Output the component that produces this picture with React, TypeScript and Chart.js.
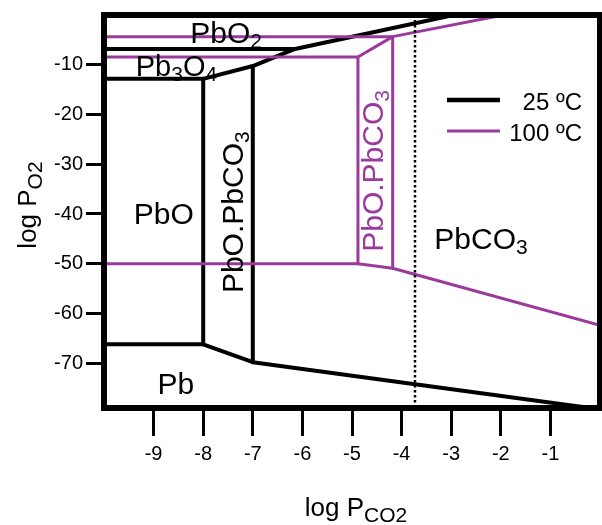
import React, { useEffect, useRef } from 'react';
import { Chart, registerables } from 'chart.js';

Chart.register(...registerables);

const FONT = "'Liberation Sans', Arial, Helvetica, sans-serif";
const BLACK = '#000000';
const PURPLE = '#9a3a9c';

// Axis ranges and ticks
const xRange = [-10, 0];
const yRange = [-79, 0];
const xTicks = [-9, -8, -7, -6, -5, -4, -3, -2, -1];
const yTicks = [-10, -20, -30, -40, -50, -60, -70];

// 25 ºC phase boundaries [log PCO2, log PO2]
const k25_PbO2_Pb3O4 = [[-10, -6.83], [-6.15, -6.83]];
const k25_Pb3O4_PbO = [[-10, -12.84], [-8, -12.84]];
const k25_upper = [[-8, -12.84], [-7, -10.26], [-6.15, -6.83], [-2.95, 0]];
const k25_PbO_mixed = [[-8, -12.84], [-8, -66.2]];
const k25_mixed_PbCO3 = [[-7, -10.26], [-7, -69.8]];
const k25_Pb = [[-10, -66.2], [-8, -66.2], [-7, -69.8], [-0.2, -79]];

// 100 ºC phase boundaries
const k100_top = [[-10, -4.35], [-4.18, -4.35], [-1.95, 0]];
const k100_mid = [[-10, -8.45], [-4.88, -8.45], [-4.18, -4.35]];
const k100_v1 = [[-4.88, -8.45], [-4.88, -50.0]];
const k100_v2 = [[-4.18, -4.35], [-4.18, -50.9]];
const k100_low = [[-10, -50.0], [-4.88, -50.0], [-4.18, -50.9], [0, -62.4]];

// Dotted reference line
const refLine = [[-3.73, 0], [-3.73, -79]];

// Legend
const legendLabels = ['25 ºC', '100 ºC'];
const legendColors = [BLACK, PURPLE];

type Part = [string, boolean];

const mk = (pts: number[][], color: string, width: number, dash: number[] = []) => ({
  data: pts.map(([x, y]) => ({ x, y })),
  showLine: true,
  borderColor: color,
  backgroundColor: color,
  borderWidth: width,
  borderDash: dash,
  pointRadius: 0,
  pointHoverRadius: 0,
  fill: false,
  tension: 0,
  borderCapStyle: 'butt',
  borderJoinStyle: 'round',
});

function partsWidth(ctx: CanvasRenderingContext2D, parts: Part[], size: number, sub: number) {
  let w = 0;
  for (const [t, s] of parts) {
    ctx.font = `${s ? sub : size}px ${FONT}`;
    w += ctx.measureText(t).width;
  }
  return w;
}

function drawParts(
  ctx: CanvasRenderingContext2D,
  parts: Part[],
  x: number,
  y: number,
  size: number,
  sub: number,
  drop: number,
  color: string
) {
  ctx.fillStyle = color;
  ctx.textAlign = 'left';
  ctx.textBaseline = 'alphabetic';
  let cx = x;
  for (const [t, s] of parts) {
    ctx.font = `${s ? sub : size}px ${FONT}`;
    ctx.fillText(t, cx, y + (s ? drop : 0));
    cx += ctx.measureText(t).width;
  }
}

const regionLabels: { parts: Part[]; x: number; y: number; color: string; rot: boolean; size: number }[] = [
  { parts: [['PbO', false], ['2', true]], x: -8.26, y: -5.7, color: BLACK, rot: false, size: 30 },
  { parts: [['Pb', false], ['3', true], ['O', false], ['4', true]], x: -9.36, y: -12.24, color: BLACK, rot: false, size: 29 },
  { parts: [['PbO', false]], x: -9.4, y: -42.0, color: BLACK, rot: false, size: 30 },
  { parts: [['Pb', false]], x: -8.92, y: -76.1, color: BLACK, rot: false, size: 30 },
  { parts: [['PbCO', false], ['3', true]], x: -3.34, y: -47.0, color: BLACK, rot: false, size: 30 },
  { parts: [['PbO.PbCO', false], ['3', true]], x: -7.19, y: -55.9, color: BLACK, rot: true, size: 30 },
  { parts: [['PbO.PbCO', false], ['3', true]], x: -4.38, y: -47.6, color: PURPLE, rot: true, size: 30 },
];

const overlay = {
  id: 'overlay',
  afterDatasetsDraw(chart: any) {
    const { ctx, chartArea: a, scales } = chart;
    const xs = scales.x;
    const ys = scales.y;
    ctx.save();
    // frame
    ctx.strokeStyle = BLACK;
    ctx.lineWidth = 6;
    ctx.strokeRect(a.left, a.top, a.right - a.left, a.bottom - a.top);

    // region labels
    for (const l of regionLabels) {
      const px = xs.getPixelForValue(l.x);
      const py = ys.getPixelForValue(l.y);
      if (l.rot) {
        ctx.save();
        ctx.translate(px, py);
        ctx.rotate(-Math.PI / 2);
        drawParts(ctx, l.parts, 0, 0, l.size, 21, 6, l.color);
        ctx.restore();
      } else {
        drawParts(ctx, l.parts, px, py, l.size, 21, 5, l.color);
      }
    }

    // legend
    legendLabels.forEach((lab, i) => {
      const ly = a.top + 85 + i * 31;
      ctx.strokeStyle = legendColors[i];
      ctx.lineWidth = i === 0 ? 4.5 : 3;
      ctx.setLineDash([]);
      ctx.beginPath();
      ctx.moveTo(a.right - 153, ly);
      ctx.lineTo(a.right - 100, ly);
      ctx.stroke();
      ctx.fillStyle = BLACK;
      ctx.font = `24px ${FONT}`;
      ctx.textAlign = 'right';
      ctx.textBaseline = 'alphabetic';
      ctx.fillText(lab, a.right - 18, ly + 10);
    });

    // axis titles
    const xt: Part[] = [['log P', false], ['CO2', true]];
    const wx = partsWidth(ctx, xt, 26, 21);
    const cxm = (a.left + a.right) / 2 + 4;
    drawParts(ctx, xt, cxm - wx / 2, 516, 26, 21, 6, BLACK);

    const yt: Part[] = [['log P', false], ['O2', true]];
    const wy = partsWidth(ctx, yt, 26, 21);
    ctx.save();
    ctx.translate(36, 205);
    ctx.rotate(-Math.PI / 2);
    drawParts(ctx, yt, -wy / 2, 0, 26, 21, 6, BLACK);
    ctx.restore();

    ctx.restore();
  },
};

export default function App() {
  const ref = useRef<HTMLCanvasElement>(null);
  useEffect(() => {
    const canvas = ref.current;
    if (!canvas) return;
    Chart.defaults.font.family = FONT;
    const chart = new Chart(canvas, {
      type: 'scatter',
      data: {
        datasets: [
          mk(refLine, BLACK, 2.5, [2.5, 2.5]),
          mk(k100_top, PURPLE, 3),
          mk(k100_mid, PURPLE, 3),
          mk(k100_v1, PURPLE, 3),
          mk(k100_v2, PURPLE, 3),
          mk(k100_low, PURPLE, 3),
          mk(k25_PbO2_Pb3O4, BLACK, 4),
          mk(k25_Pb3O4_PbO, BLACK, 4),
          mk(k25_upper, BLACK, 4),
          mk(k25_PbO_mixed, BLACK, 4),
          mk(k25_mixed_PbCO3, BLACK, 4),
          mk(k25_Pb, BLACK, 4),
        ] as any,
      },
      options: {
        animation: false,
        responsive: true,
        maintainAspectRatio: false,
        layout: { padding: { top: 12, right: 2, left: 0, bottom: 0 } },
        plugins: { legend: { display: false }, tooltip: { enabled: false } },
        events: [],
        scales: {
          x: {
            type: 'linear',
            min: xRange[0],
            max: xRange[1],
            afterBuildTicks: (s: any) => {
              s.ticks = xTicks.map((v) => ({ value: v }));
            },
            afterFit: (s: any) => {
              s.height = 117;
            },
            border: { display: false },
            grid: {
              drawOnChartArea: false,
              drawTicks: true,
              tickLength: 28,
              tickWidth: 3,
              tickColor: BLACK,
              color: BLACK,
            },
            ticks: {
              autoSkip: false,
              maxRotation: 0,
              padding: 6,
              color: BLACK,
              font: { size: 20 },
            },
          },
          y: {
            type: 'linear',
            min: yRange[0],
            max: yRange[1],
            afterBuildTicks: (s: any) => {
              s.ticks = yTicks.map((v) => ({ value: v }));
            },
            afterFit: (s: any) => {
              s.width = 104;
            },
            border: { display: false },
            grid: {
              drawOnChartArea: false,
              drawTicks: true,
              tickLength: 18,
              tickWidth: 3,
              tickColor: BLACK,
              color: BLACK,
            },
            ticks: {
              autoSkip: false,
              padding: 3,
              color: BLACK,
              font: { size: 20 },
            },
          },
        },
      } as any,
      plugins: [overlay],
    });
    return () => chart.destroy();
  }, []);
  return (
    <div style={{ position: 'fixed', left: 0, top: 0, width: 602, height: 525, background: '#ffffff' }}>
      <canvas ref={ref} />
    </div>
  );
}
